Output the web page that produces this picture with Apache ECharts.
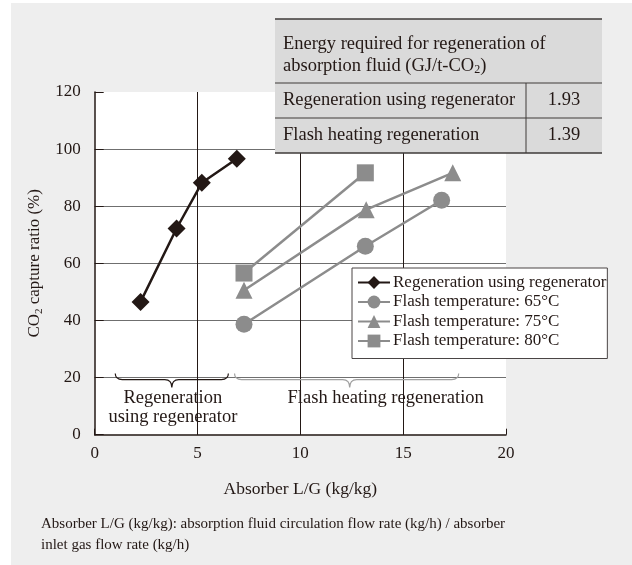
<!DOCTYPE html>
<html>
<head>
<meta charset="utf-8">
<script src="https://cdn.jsdelivr.net/npm/echarts@6/dist/echarts.min.js"></script>
<style>
html,body{margin:0;padding:0;background:#fff;}
#chart{position:absolute;left:0;top:0;width:632px;height:565px;
background:linear-gradient(#eeeeee,#eeeeee) 11px 3px / 621px 562px no-repeat,#ffffff;}
</style>
</head>
<body>
<div id="chart"></div>
<script>
// ---- data ----
const seriesNames = ['Regeneration using regenerator','Flash temperature: 65\u00b0C','Flash temperature: 75\u00b0C','Flash temperature: 80\u00b0C'];
const regenLG   = [2.23, 3.98, 5.21, 6.91];
const regenRate = [46.5, 72.2, 88.2, 96.6];
const flash65LG   = [7.26, 13.16, 16.87];
const flash65Rate = [38.7, 66.0, 82.1];
const flash75LG   = [7.26, 13.2, 17.41];
const flash75Rate = [50.6, 78.8, 91.7];
const flash80LG   = [7.26, 13.16];
const flash80Rate = [56.6, 91.7];
const xTicks = [0, 5, 10, 15, 20];
const yTicks = [0, 20, 40, 60, 80, 100, 120];
// brace annotations
const braceFrom = [1.0, 6.8];
const braceTo = [6.5, 17.7];
const braceTip = [3.75, 12.4];
const braceLevel = [20, 20];
const braceLabelX = [3.8, 14.15];
const braceLabels = ['Regeneration\nusing regenerator', 'Flash heating regeneration'];
// table
const tableTitle = ['Energy required for regeneration of', 'absorption fluid (GJ/t-CO{sub|2})'];
const tableRows = ['Regeneration using regenerator', 'Flash heating regeneration'];
const tableValues = ['1.93', '1.39'];
const footnote = 'Absorber L/G (kg/kg): absorption fluid circulation flow rate (kg/h) / absorber\ninlet gas flow rate (kg/h)';

const FONT = 'Liberation Serif';
const INK = '#231815';
const GRAY = '#8c8c8c';

const zip = (a, b) => a.map((v, i) => [v, b[i]]);
const braceData = braceFrom.map((f, i) => [f, braceTo[i], braceTip[i], braceLevel[i], braceLabelX[i]]);
const braceColors = [INK, '#a0a0a0'];

const chart = echarts.init(document.getElementById('chart'), null, {renderer: 'canvas'});

const gridL = 94.7, gridT = 92, gridR = 632 - 506, gridB = 565 - 434.7;

// table graphics
const tX = 275, tY = 19, tW = 327, tH1 = 64, tH2 = 35, colX = 526;
const TFONT = '18.5px ' + FONT;
const tableGraphics = [
  {type: 'rect', shape: {x: tX, y: tY, width: tW, height: tH1 + 2 * tH2}, style: {fill: '#dadada'}, z: 100},
  {type: 'line', shape: {x1: tX, y1: tY, x2: tX + tW, y2: tY}, style: {stroke: '#3e3a39', lineWidth: 1.5}, z: 101},
  {type: 'line', shape: {x1: tX, y1: tY + tH1, x2: tX + tW, y2: tY + tH1}, style: {stroke: '#3e3a39', lineWidth: 1}, z: 101},
  {type: 'line', shape: {x1: tX, y1: tY + tH1 + tH2, x2: tX + tW, y2: tY + tH1 + tH2}, style: {stroke: '#3e3a39', lineWidth: 1}, z: 101},
  {type: 'line', shape: {x1: tX, y1: tY + tH1 + 2 * tH2, x2: tX + tW, y2: tY + tH1 + 2 * tH2}, style: {stroke: '#3e3a39', lineWidth: 1.5}, z: 101},
  {type: 'line', shape: {x1: colX, y1: tY + tH1, x2: colX, y2: tY + tH1 + 2 * tH2}, style: {stroke: '#3e3a39', lineWidth: 1}, z: 101},
  {type: 'text', left: 283, top: tY + 14, z: 102,
    style: {text: tableTitle.join('\n'), font: TFONT, fill: INK, lineHeight: 22,
      rich: {sub: {fontSize: 12, fontFamily: FONT, fill: INK, padding: [8, 0, 0, 0]}}}},
];
tableRows.forEach((r, i) => {
  const cy = tY + tH1 + tH2 * i + tH2 / 2;
  tableGraphics.push({type: 'text', x: 283, y: cy, z: 102,
    style: {text: r, font: TFONT, fill: INK, textVerticalAlign: 'middle', verticalAlign: 'middle'}});
  tableGraphics.push({type: 'text', x: (colX + tX + tW) / 2, y: cy, z: 102,
    style: {text: tableValues[i], font: TFONT, fill: INK, textAlign: 'center', align: 'center', textVerticalAlign: 'middle', verticalAlign: 'middle'}});
});
tableGraphics.push({type: 'text', left: 41, top: 514, z: 102,
  style: {text: footnote, font: '15px ' + FONT, fill: INK, lineHeight: 21}});

const lineBase = {type: 'line', z: 3};

const option = {
  animation: false,
  backgroundColor: 'transparent',
  textStyle: {fontFamily: FONT, color: INK},
  grid: {left: gridL, top: gridT, right: gridR, bottom: gridB, show: true, backgroundColor: '#ffffff', borderWidth: 0, containLabel: false},
  legend: {
    orient: 'vertical', left: 352, top: 268,
    backgroundColor: '#ffffff', borderColor: '#4a4545', borderWidth: 1,
    padding: [6, 1, 9, 5], itemGap: 2.5, itemWidth: 32, itemHeight: 16,
    textStyle: {fontFamily: FONT, fontSize: 17, lineHeight: 17, color: INK, padding: [0, 0, 0, -2]},
    data: seriesNames, z: 20
  },
  xAxis: {
    type: 'value', min: xTicks[0], max: xTicks[xTicks.length - 1], interval: xTicks[1] - xTicks[0],
    name: 'Absorber L/G (kg/kg)', nameLocation: 'middle', nameGap: 46,
    nameTextStyle: {fontFamily: FONT, fontSize: 17.5, color: INK},
    axisLine: {lineStyle: {color: INK, width: 1.5}},
    axisTick: {inside: true, length: 6, lineStyle: {color: INK}},
    axisLabel: {fontFamily: FONT, fontSize: 17, color: INK, margin: 10},
    splitLine: {show: true, showMinLine: false, showMaxLine: false, lineStyle: {color: INK, width: 1}}
  },
  yAxis: {
    type: 'value', min: yTicks[0], max: yTicks[yTicks.length - 1], interval: yTicks[1] - yTicks[0],
    name: 'CO{sub|2} capture ratio (%)', nameLocation: 'middle', nameGap: 33,
    nameTextStyle: {fontFamily: FONT, fontSize: 17, color: INK,
      rich: {sub: {fontSize: 11, fontFamily: FONT, color: INK, padding: [8, 0, 0, 0]}}},
    axisLine: {show: true, lineStyle: {color: INK, width: 1.5}},
    axisTick: {show: true, inside: true, length: 9, lineStyle: {color: INK}},
    axisLabel: {fontFamily: FONT, fontSize: 17, color: INK, margin: 14},
    splitLine: {show: true, showMinLine: false, showMaxLine: false, lineStyle: {color: '#6f6f6f', width: 1}}
  },
  series: [
    Object.assign({}, lineBase, {name: seriesNames[0], data: zip(regenLG, regenRate), color: INK, symbol: 'diamond', symbolSize: 18, itemStyle: {color: INK}, lineStyle: {width: 2.5, color: INK}, z: 5}),
    Object.assign({}, lineBase, {name: seriesNames[1], data: zip(flash65LG, flash65Rate), color: GRAY, symbol: 'circle', symbolSize: 17, itemStyle: {color: GRAY}, lineStyle: {width: 2.5, color: GRAY}}),
    Object.assign({}, lineBase, {name: seriesNames[2], data: zip(flash75LG, flash75Rate), color: GRAY, symbol: 'triangle', symbolSize: 17, itemStyle: {color: GRAY}, lineStyle: {width: 2.5, color: GRAY}}),
    Object.assign({}, lineBase, {name: seriesNames[3], data: zip(flash80LG, flash80Rate), color: GRAY, symbol: 'rect', symbolSize: 17, itemStyle: {color: GRAY}, lineStyle: {width: 2.5, color: GRAY}}),
    {
      type: 'custom', name: 'braces', data: braceData, z: 4, silent: true,
      encode: {x: [0, 1, 2, 4], y: 3},
      clip: false,
      renderItem: function (params, api) {
        const i = params.dataIndex;
        const a = api.coord([api.value(0), api.value(3)]);
        const b = api.coord([api.value(1), api.value(3)]);
        const m = api.coord([api.value(2), api.value(3)]);
        const lx = api.coord([api.value(4), api.value(3)])[0];
        const y0 = a[1];
        const yTop = y0 - 4, yMid = y0 + 2, yTip = y0 + 10, r = 7;
        const p = 'M' + a[0] + ',' + yTop + ' Q' + a[0] + ',' + yMid + ' ' + (a[0] + r) + ',' + yMid +
          ' L' + (m[0] - r) + ',' + yMid + ' Q' + m[0] + ',' + yMid + ' ' + m[0] + ',' + yTip +
          ' Q' + m[0] + ',' + yMid + ' ' + (m[0] + r) + ',' + yMid +
          ' L' + (b[0] - r) + ',' + yMid + ' Q' + b[0] + ',' + yMid + ' ' + b[0] + ',' + yTop;
        return {
          type: 'group',
          children: [
            {type: 'path', shape: {pathData: p}, style: {fill: 'none', stroke: braceColors[i], lineWidth: 1.2}},
            {type: 'text', x: lx, y: yTip + 1.5,
              style: {text: braceLabels[i], font: '18.5px ' + FONT, fill: INK, lineHeight: 19, align: 'center', verticalAlign: 'top'}}
          ]
        };
      }
    }
  ],
  graphic: tableGraphics
};
chart.setOption(option);
</script>
</body>
</html>
